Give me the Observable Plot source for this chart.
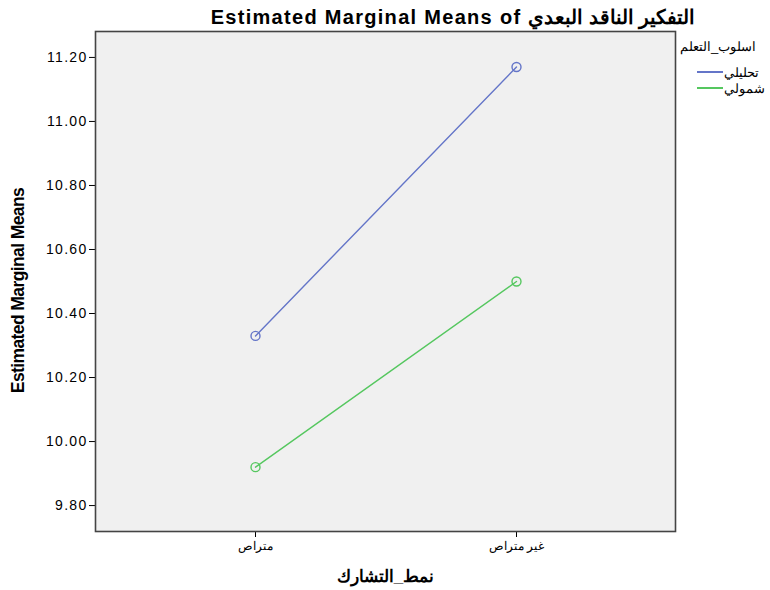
<!DOCTYPE html>
<html>
<head>
<meta charset="utf-8">
<script src="https://cdn.jsdelivr.net/npm/d3@7"></script>
<script src="https://cdn.jsdelivr.net/npm/@observablehq/plot@0.6"></script>
<style>
  body { margin: 0; background: #fff; font-family: "Liberation Sans", Arial, sans-serif; }
  #wrap { position: relative; width: 770px; height: 590px; }
  #chart { position: absolute; left: 0; top: 0; }
  #title { position: absolute; left: 0; top: 5px; width: 906px; text-align: center;
           font-weight: bold; font-size: 20px; color: #000; white-space: nowrap; }
  #title .en { letter-spacing: 1.3px; }
  #legend { position: absolute; left: 680px; top: 39px; font-size: 13px; color: #000; }
  #legend .lt { margin-bottom: 10px; }
  #legend .item { display: flex; align-items: center; height: 16px; margin-left: 17px; }
  #legend .sw { display: inline-block; width: 26px; height: 2px; margin-right: 1px; }
  g[aria-label="x-axis label"] text { font-weight: bold; font-size: 17px; }
  g[aria-label="y-axis tick label"] text { letter-spacing: 1.3px; }
</style>
</head>
<body>
<div id="wrap">
  <div id="chart"></div>
  <div id="title"></div>
  <div id="legend"></div>
</div>
<script>
const titleEnglish = "Estimated Marginal Means of";
const titleArabic = "التفكير الناقد البعدي";
const yLabel = "Estimated Marginal Means";
const xLabel = "نمط_التشارك";
const legendTitle = "اسلوب_التعلم";
const categories = ["متراص", "غير متراص"];
const seriesNames = ["تحليلي", "شمولي"];
const seriesColors = ["#6475c8", "#55c75f"];
const tahliliValues = [10.33, 11.17];
const shumuliValues = [9.92, 10.50];
const yTicks = [9.80, 10.00, 10.20, 10.40, 10.60, 10.80, 11.00, 11.20];

const data = [];
categories.forEach((c, i) => data.push({cat: c, value: tahliliValues[i], series: seriesNames[0]}));
categories.forEach((c, i) => data.push({cat: c, value: shumuliValues[i], series: seriesNames[1]}));

const chart = Plot.plot({
  width: 770,
  height: 590,
  marginLeft: 95,
  marginRight: 95,
  marginTop: 31,
  marginBottom: 59,
  style: {fontFamily: "'Liberation Sans', Arial, sans-serif", color: "#000", background: "transparent"},
  x: {type: "point", domain: categories, padding: 0.607},
  y: {domain: [9.719, 11.281]},
  color: {domain: seriesNames, range: seriesColors},
  marks: [
    Plot.frame({fill: "#f0f0f0"}),
    Plot.axisY({ticks: yTicks, tickFormat: d3.format(".2f"), tickSize: 6, tickPadding: 2,
      label: null, fontSize: 14}),
    Plot.text([yLabel], {frameAnchor: "left", textAnchor: "middle", rotate: -90, dx: -77, dy: 9,
      fontSize: 17.5, fontWeight: "bold", fill: "#000"}),
    Plot.axisX({tickSize: 6, tickPadding: 4, label: xLabel, labelAnchor: "center",
      labelArrow: "none", labelOffset: 50, fontSize: 12}),
    Plot.line(data, {x: "cat", y: "value", stroke: "series", strokeWidth: 1.4}),
    Plot.dot(data, {x: "cat", y: "value", stroke: "series", r: 4.5, strokeWidth: 1.4}),
    Plot.frame({stroke: "#444", strokeWidth: 1.6})
  ]
});
chart.querySelectorAll("text").forEach(t => {
  if (t.textContent === yLabel) t.style.letterSpacing = "-0.6px";
});
document.getElementById("chart").appendChild(chart);

const title = document.getElementById("title");
const en = document.createElement("span");
en.className = "en";
en.textContent = titleEnglish + " ";
const ar = document.createElement("span");
ar.textContent = titleArabic;
title.appendChild(en);
title.appendChild(ar);

const legend = document.getElementById("legend");
const lt = document.createElement("div");
lt.className = "lt";
lt.textContent = legendTitle;
legend.appendChild(lt);
seriesNames.forEach((name, i) => {
  const item = document.createElement("div");
  item.className = "item";
  const sw = document.createElement("span");
  sw.className = "sw";
  sw.style.backgroundColor = seriesColors[i];
  const label = document.createElement("span");
  label.textContent = name;
  item.appendChild(sw);
  item.appendChild(label);
  legend.appendChild(item);
});
</script>
</body>
</html>
